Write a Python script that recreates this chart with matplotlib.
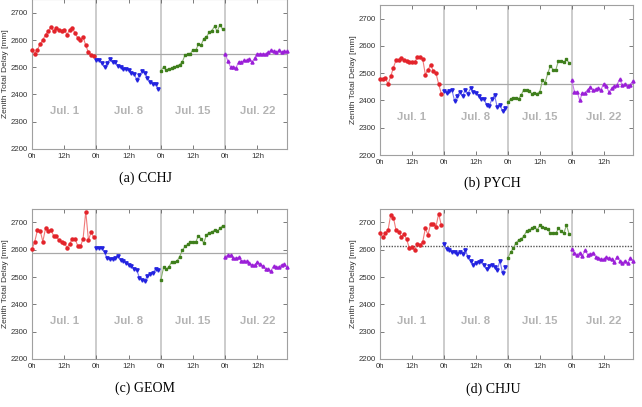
import matplotlib

matplotlib.use("Agg")
import matplotlib.pyplot as plt
import numpy as np

plt.rcParams["font.family"] = ["Liberation Sans", "DejaVu Sans"]

# Hourly zenith total delay [mm], four days per station
stations = ["(a) CCHJ", "(b) PYCH", "(c) GEOM", "(d) CHJU"]
day_labels = ["Jul. 1", "Jul. 8", "Jul. 15", "Jul. 22"]
x_tick_labels = ["0h", "12h", "0h", "12h", "0h", "12h", "0h", "12h"]

cchj = [
    [2565, 2550, 2565, 2585, 2600, 2620, 2632, 2648, 2632, 2645, 2638, 2635,
     2638, 2620, 2638, 2645, 2625, 2608, 2600, 2612, 2580, 2555, 2545, 2540],
    [2528, 2525, 2515, 2500, 2515, 2530, 2518, 2518, 2505, 2500, 2495, 2492,
     2490, 2480, 2475, 2455, 2470, 2485, 2480, 2462, 2445, 2440, 2440, 2420],
    [2488, 2500, 2490, 2495, 2496, 2500, 2505, 2510, 2520, 2545, 2548, 2550,
     2565, 2562, 2585, 2582, 2605, 2612, 2628, 2635, 2650, 2632, 2656, 2640],
    [2548, 2522, 2500, 2502, 2498, 2520, 2518, 2525, 2525, 2532, 2518, 2535,
     2550, 2550, 2550, 2550, 2555, 2562, 2560, 2555, 2562, 2555, 2558, 2558],
]
pych = [
    [2480, 2478, 2482, 2460, 2488, 2520, 2548, 2548, 2555, 2548, 2545, 2540,
     2540, 2540, 2558, 2558, 2553, 2495, 2512, 2530, 2508, 2500, 2460, 2425],
    [2435, 2428, 2435, 2438, 2398, 2418, 2432, 2415, 2440, 2425, 2445, 2432,
     2428, 2418, 2405, 2405, 2385, 2378, 2405, 2420, 2375, 2385, 2360, 2372],
    [2395, 2405, 2410, 2408, 2405, 2420, 2440, 2438, 2435, 2425, 2428, 2425,
     2432, 2475, 2465, 2500, 2528, 2512, 2512, 2545, 2545, 2540, 2550, 2538],
    [2475, 2432, 2432, 2400, 2428, 2428, 2440, 2448, 2438, 2442, 2445, 2440,
     2462, 2452, 2430, 2445, 2452, 2458, 2478, 2455, 2462, 2452, 2458, 2472],
]
geom = [
    [2603, 2630, 2672, 2670, 2630, 2678, 2670, 2672, 2652, 2650, 2635, 2628,
     2625, 2608, 2622, 2640, 2640, 2615, 2612, 2640, 2740, 2635, 2665, 2645],
    [2608, 2605, 2605, 2590, 2568, 2565, 2565, 2570, 2578, 2562, 2558, 2552,
     2545, 2540, 2530, 2525, 2498, 2490, 2486, 2505, 2510, 2515, 2530, 2525],
    [2490, 2535, 2528, 2538, 2555, 2555, 2558, 2575, 2598, 2612, 2620, 2628,
     2630, 2628, 2652, 2640, 2625, 2655, 2662, 2665, 2672, 2668, 2678, 2688],
    [2575, 2580, 2580, 2568, 2570, 2572, 2560, 2560, 2558, 2550, 2545, 2545,
     2555, 2548, 2540, 2530, 2528, 2522, 2540, 2535, 2538, 2545, 2548, 2535],
]
chju = [
    [2662, 2645, 2660, 2672, 2728, 2718, 2672, 2665, 2648, 2658, 2638, 2605,
     2610, 2598, 2622, 2618, 2628, 2678, 2655, 2695, 2695, 2685, 2732, 2690],
    [2620, 2602, 2600, 2592, 2590, 2585, 2592, 2585, 2598, 2575, 2560, 2545,
     2550, 2555, 2558, 2545, 2528, 2540, 2545, 2535, 2525, 2560, 2515, 2535],
    [2570, 2590, 2605, 2625, 2635, 2640, 2650, 2668, 2672, 2678, 2685, 2672,
     2690, 2682, 2678, 2675, 2660, 2660, 2660, 2678, 2668, 2660, 2690, 2658],
    [2602, 2588, 2582, 2588, 2578, 2598, 2582, 2585, 2588, 2575, 2570, 2565,
     2565, 2572, 2570, 2565, 2555, 2575, 2560, 2550, 2560, 2550, 2570, 2560],
]
all_data = [cchj, pych, geom, chju]
mean_levels = [2548, 2460, 2588, 2613]

marker_colors = ["#e3242b", "#2323e0", "#3f7f1c", "#9b1fd8"]
line_colors = ["#f07a7a", "#7a7af0", "#8ab070", "#c87ae8"]
markers = ["o", "v", "s", "^"]
marker_sizes = [2.2, 2.4, 1.8, 2.2]

fig = plt.figure(figsize=(6.42, 4.07), dpi=100)

# axes boxes in figure fractions
boxes = [
    [0.050, 0.634, 0.397, 0.368],
    [0.592, 0.619, 0.394, 0.369],
    [0.050, 0.118, 0.397, 0.369],
    [0.592, 0.118, 0.394, 0.369],
]
caption_pos = [(0.226, 0.562), (0.767, 0.55), (0.226, 0.047), (0.768, 0.044)]

for k, data in enumerate(all_data):
    ax = fig.add_axes(boxes[k])
    for d, seg in enumerate(data):
        hours = 24 * d + np.arange(len(seg))
        ax.plot(hours, seg, color=line_colors[d], lw=0.8, zorder=3)
        ax.plot(hours, seg, ls="none", marker=markers[d], ms=marker_sizes[d],
                color=marker_colors[d], mec=marker_colors[d], zorder=4,
                clip_on=False)
        ax.text(24 * d + 12, 2340, day_labels[d], ha="center", va="center",
                fontsize=8.2, fontweight="bold", color="#b4b4b4")
    for v in [24, 48, 72]:
        ax.axvline(v, color="#c8c8c8", lw=1.3, zorder=1)
    if k == 3:
        ax.axhline(mean_levels[k], color="#555555", lw=1.0, ls=(0, (1, 1)),
                   zorder=2)
    else:
        ax.axhline(mean_levels[k], color="#a8a8a8", lw=0.9, zorder=2)

    ax.set_xlim(0, 95)
    ax.set_ylim(2200, 2750)
    ax.set_yticks(np.arange(2200, 2701, 100))
    ax.set_xticks(np.arange(0, 96, 12))
    ax.set_xticklabels(x_tick_labels)
    ax.tick_params(direction="in", top=True, right=True, length=3,
                   width=0.6, color="#666666", labelsize=5.6,
                   labelcolor="#333333", pad=3)
    for s in ax.spines.values():
        s.set_color("#a0a0a0")
        s.set_linewidth(0.8)
    ax.set_ylabel("Zenith Total Delay [mm]", fontsize=6, color="#333333",
                  labelpad=1.5)
    fig.text(caption_pos[k][0], caption_pos[k][1], stations[k],
             ha="center", va="center", fontsize=10,
             family=["Liberation Serif", "DejaVu Serif"])

fig.savefig("out.png", dpi=100)
